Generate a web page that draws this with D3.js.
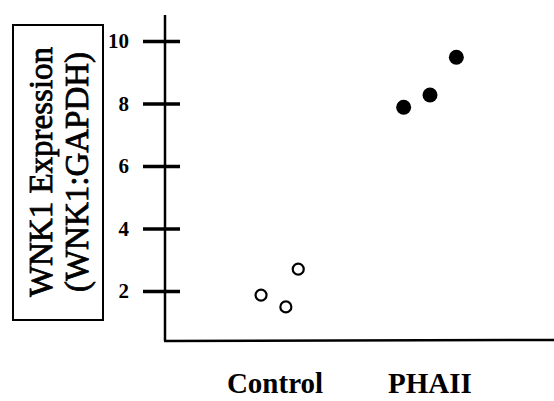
<!DOCTYPE html>
<html>
<head>
<meta charset="utf-8">
<script src="https://cdn.jsdelivr.net/npm/d3@7"></script>
<style>
  body { margin: 0; background: #fff; }
  svg { display: block; }
</style>
</head>
<body>
<div id="chart"></div>
<script>
// Dados
const groups = ["Control", "PHAII"];
const controlX = [-0.09, 0.07, 0.15];     // posição relativa ao centro do grupo
const controlY = [1.87, 1.49, 2.70];
const phaiiX = [-0.17, 0.0, 0.17];
const phaiiY = [7.88, 8.27, 9.48];
const yTicks = [2, 4, 6, 8, 10];
const yLabel = ["WNK1 Expression", "(WNK1:GAPDH)"];

const width = 554, height = 401;

const svg = d3.select("#chart").append("svg")
  .attr("width", width).attr("height", height);

// Escalas
const y = d3.scaleLinear().domain([0, 10]).range([353.5, 41]);
const x = d3.scaleLinear().domain([0, 1]).range([275, 430]);

const axisX = 165;
const baseY = 341;

// Eixo Y (linha)
svg.append("line")
  .attr("x1", axisX).attr("x2", axisX)
  .attr("y1", 15).attr("y2", baseY)
  .attr("stroke", "#000").attr("stroke-width", 2.5);

// Eixo X (linha)
svg.append("line")
  .attr("x1", axisX - 1).attr("x2", width)
  .attr("y1", baseY).attr("y2", baseY - 1)
  .attr("stroke", "#000").attr("stroke-width", 2.5);

// Ticks atravessando o eixo
const yAxis = d3.axisLeft(y).tickValues(yTicks).tickSize(37).tickSizeOuter(0).tickPadding(14);
const gy = svg.append("g").attr("transform", `translate(${axisX + 15},0)`).call(yAxis);
gy.select(".domain").remove();
gy.selectAll(".tick line").attr("stroke", "#000").attr("stroke-width", 3.5);
gy.selectAll(".tick text")
  .attr("fill", "#000")
  .style("font-family", "'Liberation Serif', serif")
  .style("font-weight", "bold")
  .style("font-size", "21px");

// Rótulos das categorias
svg.selectAll(".cat")
  .data(groups)
  .enter()
  .append("text")
  .attr("class", "cat")
  .attr("x", (d, i) => x(i))
  .attr("y", 393)
  .attr("text-anchor", "middle")
  .style("font-family", "'Liberation Serif', serif")
  .style("font-weight", "bold")
  .style("font-size", "29px")
  .text(d => d);

// Pontos Control (abertos)
svg.selectAll(".ctrl")
  .data(controlY)
  .enter()
  .append("circle")
  .attr("class", "ctrl")
  .attr("cx", (d, i) => x(0 + controlX[i]))
  .attr("cy", d => y(d))
  .attr("r", 5.5)
  .attr("fill", "#fff")
  .attr("stroke", "#000")
  .attr("stroke-width", 2.2);

// Pontos PHAII (cheios)
svg.selectAll(".pha")
  .data(phaiiY)
  .enter()
  .append("circle")
  .attr("class", "pha")
  .attr("cx", (d, i) => x(1 + phaiiX[i]))
  .attr("cy", d => y(d))
  .attr("r", 7.5)
  .attr("fill", "#000");

// Caixa do rótulo Y
svg.append("rect")
  .attr("x", 13).attr("y", 25)
  .attr("width", 90).attr("height", 295)
  .attr("fill", "none")
  .attr("stroke", "#000")
  .attr("stroke-width", 2);

svg.selectAll(".ylab")
  .data(yLabel)
  .enter()
  .append("text")
  .attr("class", "ylab")
  .attr("transform", (d, i) => `translate(${i === 0 ? 41 : 77},172) rotate(-90)`)
  .attr("text-anchor", "middle")
  .attr("dominant-baseline", "central")
  .attr("stroke", "#000")
  .attr("stroke-width", 0.8)
  .style("font-family", "'Liberation Serif', serif")
  .style("font-size", "33px")
  .text(d => d);
</script>
</body>
</html>
